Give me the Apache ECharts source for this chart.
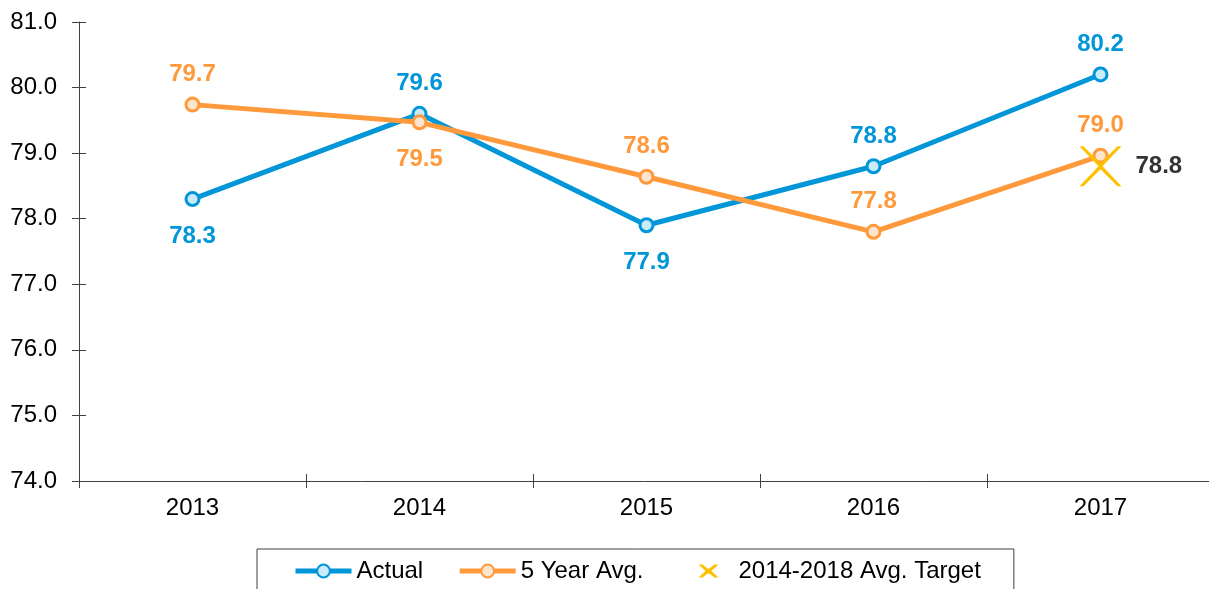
<!DOCTYPE html>
<html>
<head>
<meta charset="utf-8">
<script src="https://cdn.jsdelivr.net/npm/echarts@6/dist/echarts.min.js"></script>
<style>
html,body{margin:0;padding:0;background:#fff;}
#c{width:1209px;height:589px;}
</style>
</head>
<body>
<div id="c"></div>
<script>
const categories = ['2013', '2014', '2015', '2016', '2017'];
const actual = [78.3, 79.6, 77.9, 78.8, 80.2];
const fiveYearAvg = [79.74, 79.47, 78.64, 77.8, 78.96];
const target = [null, null, null, null, 78.8];
const seriesNames = ['Actual', '5 Year Avg.', '2014-2018 Avg. Target'];
const actualLabelPos = ['bottom', 'top', 'bottom', 'top', 'top'];
const avgLabelPos = ['top', 'bottom', 'top', 'top', 'top'];

const BLUE = '#0096D8';
const ORANGE = '#FF9A3C';
const GOLD = '#FFC000';
const FONT = 'Liberation Sans, Arial, sans-serif';
const FS = 24;
const XPATH = 'path://M0,0L4,0L21,17L38,0L42,0L23,20L42,40L38,40L21,23L4,40L0,40L19,20Z';
const XLEGEND = 'path://M0,0M56,16M21,1.5L25,1.5L31,6L37,1.5L41,1.5L34,8L41,14.5L37,14.5L31,10L25,14.5L21,14.5L28,8Z';

function labelFor(pos, color) {
  return {
    show: true, position: pos, distance: pos === 'top' ? 10 : 17,
    color: color, fontSize: FS, fontWeight: 'bold', fontFamily: FONT,
    formatter: p => Number(p.value).toFixed(1)
  };
}

const chart = echarts.init(document.getElementById('c'), null, {renderer: 'canvas'});
const axisColor = '#404040';
chart.setOption({
  animation: false,
  grid: {left: 79, width: 1135, top: 22, bottom: 108, containLabel: false, outerBoundsMode: 'none'},
  xAxis: [{
    type: 'category', data: categories, boundaryGap: true,
    axisLine: {lineStyle: {color: axisColor, width: 1}},
    axisTick: {show: true, inside: false, length: 7, lineStyle: {color: axisColor}},
    axisLabel: {color: '#000', fontSize: FS, fontFamily: FONT, margin: 15}
  }, {
    type: 'category', data: categories, boundaryGap: true, position: 'bottom',
    axisLine: {show: false},
    axisTick: {show: true, inside: true, length: 7, lineStyle: {color: axisColor}},
    axisLabel: {show: false}
  }],
  yAxis: [{
    type: 'value', min: 74, max: 81, interval: 1,
    axisLine: {show: true, lineStyle: {color: axisColor, width: 1}},
    axisTick: {show: true, inside: false, length: 7, lineStyle: {color: axisColor}},
    splitLine: {show: false},
    axisLabel: {color: '#000', fontSize: FS, fontFamily: FONT, margin: 22,
      formatter: v => v.toFixed(1)}
  }, {
    type: 'value', min: 74, max: 81, interval: 1, position: 'left',
    axisLine: {show: false},
    axisTick: {show: true, inside: true, length: 7, lineStyle: {color: axisColor}},
    splitLine: {show: false},
    axisLabel: {show: false}
  }],
  legend: {
    left: 257, top: 549,
    padding: [10, 33, 30, 36],
    borderColor: '#404040', borderWidth: 1,
    itemWidth: 56, itemHeight: 16, itemGap: 34,
    textStyle: {color: '#000', fontSize: FS, fontFamily: FONT},
    data: [
      {name: seriesNames[0], lineStyle: {width: 5}},
      {name: seriesNames[1], lineStyle: {width: 5}},
      {name: seriesNames[2], icon: XLEGEND, itemStyle: {color: GOLD, borderWidth: 0}}
    ]
  },
  series: [{
    name: seriesNames[0], type: 'line',
    data: actual.map((v, i) => ({value: v, label: labelFor(actualLabelPos[i], BLUE)})),
    lineStyle: {color: BLUE, width: 5},
    symbol: 'circle', symbolSize: 13,
    itemStyle: {color: '#C9EBFA', borderColor: BLUE, borderWidth: 3},
    z: 2
  }, {
    name: seriesNames[1], type: 'line',
    data: fiveYearAvg.map((v, i) => ({value: v, label: labelFor(avgLabelPos[i], ORANGE)})),
    lineStyle: {color: ORANGE, width: 5},
    symbol: 'circle', symbolSize: 13,
    itemStyle: {color: '#FDE4CF', borderColor: ORANGE, borderWidth: 3},
    z: 3
  }, {
    name: seriesNames[2], type: 'scatter',
    data: target,
    symbol: XPATH, symbolSize: [42, 40],
    itemStyle: {color: GOLD, opacity: 1},
    label: {show: true, position: 'right', distance: 14, color: '#333333',
      fontSize: FS, fontWeight: 'bold', fontFamily: FONT,
      formatter: p => Number(p.value).toFixed(1)},
    z: 4
  }]
});
</script>
</body>
</html>
